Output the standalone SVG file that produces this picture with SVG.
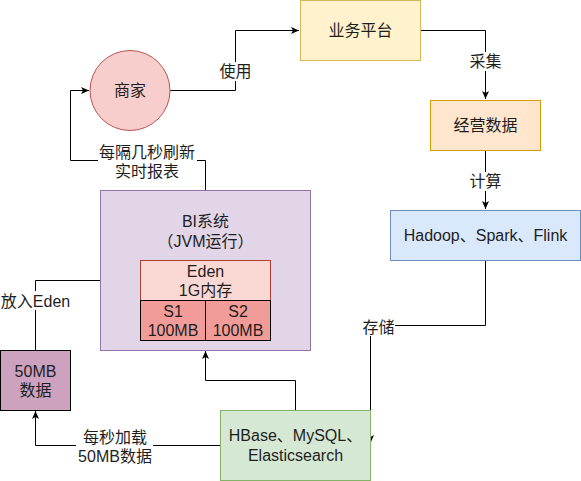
<svg xmlns="http://www.w3.org/2000/svg" width="581" height="481" viewBox="0 0 581 481">
<style>
text{font-family:"Liberation Sans","Noto Sans CJK SC",sans-serif;font-size:16px;fill:#1e1e1e;text-anchor:middle;dominant-baseline:central}
.e{fill:none;stroke:#000;stroke-width:1}
.bg{fill:#fff;stroke:none}
</style>
<defs>
<marker id="a" markerUnits="userSpaceOnUse" markerWidth="10" markerHeight="10" refX="8" refY="4" orient="auto">
<path d="M0,0.5 L8,4 L0,7.5 L2,4 Z" fill="#000"/>
</marker>
</defs>
<rect width="581" height="481" fill="#fff"/>
<g id="connectors">
<path class="e" d="M170,90.5 H235.5 V30.5 H299" marker-end="url(#a)"/>
<path class="e" d="M420,30.5 H485.5 V99" marker-end="url(#a)"/>
<path class="e" d="M485.5,150 V209" marker-end="url(#a)"/>
<path class="e" d="M485.5,260 V325.5 H370.5 V443" marker-end="url(#a)"/>
<path class="e" d="M295.5,410 V380.5 H205.5 V351" marker-end="url(#a)"/>
<path class="e" d="M220,445.5 H35.5 V411" marker-end="url(#a)"/>
<path class="e" d="M35.5,350 V280.5 H139" marker-end="url(#a)"/>
<path class="e" d="M205.5,190 V160.5 H70.5 V90.5 H89" marker-end="url(#a)"/>
<g id="lbl-use"><rect class="bg" x="218" y="62" width="35" height="19"/><text x="235.5" y="71.5">使用</text></g>
<g id="lbl-collect"><rect class="bg" x="468" y="52" width="35" height="19"/><text x="485.5" y="61.5">采集</text></g>
<g id="lbl-calc"><rect class="bg" x="468" y="172" width="35" height="19"/><text x="485.5" y="181.5">计算</text></g>
<g id="lbl-store"><rect class="bg" x="362" y="317" width="33" height="19"/><text x="378.5" y="327">存储</text></g>
<g id="lbl-load"><rect class="bg" x="76" y="427" width="77" height="39"/><text x="115" y="437">每秒加载</text><text x="115" y="456.5">50MB数据</text></g>
<g id="lbl-put"><rect class="bg" x="0" y="291" width="71" height="19"/><text x="35.5" y="301">放入Eden</text></g>
<g id="lbl-refresh"><rect class="bg" x="98" y="142" width="99" height="38"/><text x="147" y="152">每隔几秒刷新</text><text x="147" y="171">实时报表</text></g>
</g>
<g id="merchant"><circle cx="130" cy="90.5" r="40" fill="#f8cecc" stroke="#b85450"/><text x="130" y="90.5">商家</text></g>
<g id="platform"><rect x="300.5" y="0.5" width="120" height="60" fill="#fff2cc" stroke="#d6b656"/><text x="360.5" y="30.5">业务平台</text></g>
<g id="bizdata"><rect x="430.5" y="100.5" width="110" height="50" fill="#ffe6cc" stroke="#d79b00"/><text x="485.5" y="125.5">经营数据</text></g>
<g id="hadoop"><rect x="390.5" y="210.5" width="190" height="50" fill="#dae8fc" stroke="#6c8ebf"/><text x="485.5" y="235.5">Hadoop、Spark、Flink</text></g>
<g id="bi"><rect x="100.5" y="190.5" width="210" height="160" fill="#e1d5e7" stroke="#9673a6"/><text x="205.5" y="221.5">BI系统</text><text x="205.5" y="241.5">（JVM运行）</text></g>
<g id="eden"><rect x="140.5" y="260.5" width="130" height="40" fill="#fad9d5" stroke="#ae4132"/><text x="205.5" y="271.5">Eden</text><text x="205.5" y="290.5">1G内存</text></g>
<g id="s1"><rect x="140.5" y="300.5" width="65" height="40" fill="#f19c99" stroke="#000"/><text x="173" y="311.5">S1</text><text x="173" y="330">100MB</text></g>
<g id="s2"><rect x="205.5" y="300.5" width="65" height="40" fill="#f19c99" stroke="#000"/><text x="238" y="311.5">S2</text><text x="238" y="330">100MB</text></g>
<g id="data50"><rect x="0.5" y="350.5" width="70" height="60" fill="#cda2be" stroke="#000"/><text x="35.5" y="371.5">50MB</text><text x="35.5" y="390">数据</text></g>
<g id="storage"><rect x="220.5" y="410.5" width="150" height="70" fill="#d5e8d4" stroke="#82b366"/><text x="295.5" y="435">HBase、MySQL、</text><text x="295.5" y="455">Elasticsearch</text></g>
</svg>
